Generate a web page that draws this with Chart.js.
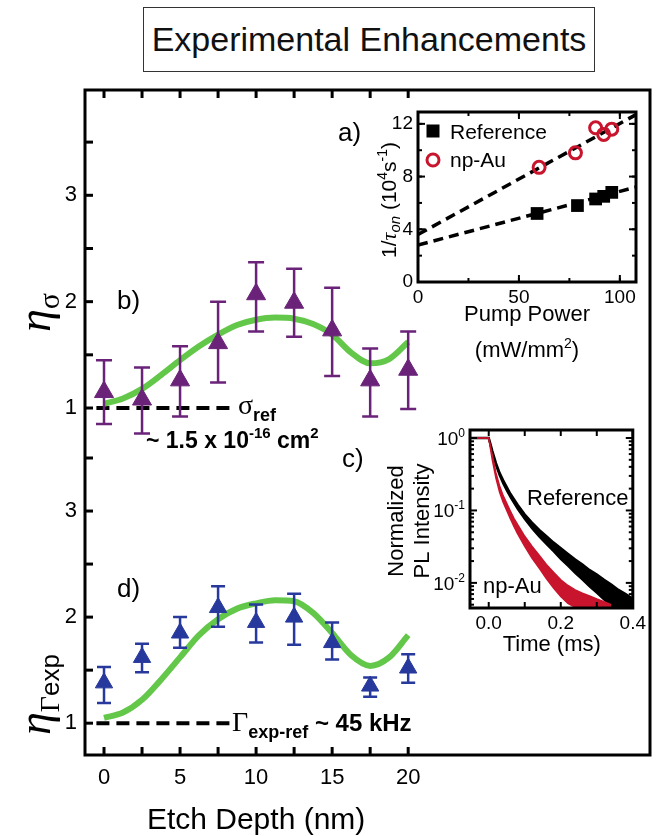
<!DOCTYPE html>
<html>
<head>
<meta charset="utf-8">
<title>Experimental Enhancements</title>
<script src="https://cdn.jsdelivr.net/npm/chart.js@4.4.1/dist/chart.umd.min.js"></script>
<style>
  html, body { margin: 0; padding: 0; background: #fff; }
  body { position: relative; width: 663px; height: 836px; overflow: hidden; font-family: "Liberation Sans", Arial, sans-serif; }
  #title { position: absolute; left: 143px; top: 7px; width: 452px; height: 65px; box-sizing: border-box;
           border: 1.5px solid #333; text-align: center; font-size: 34px; line-height: 62px; color: #111; }
  canvas { position: absolute; }
</style>
</head>
<body>
<div id="title">Experimental Enhancements</div>
<canvas id="main" width="663" height="836" style="left:0;top:0"></canvas>
<canvas id="insetA" width="320" height="275" style="left:330px;top:95px"></canvas>
<canvas id="insetC" width="320" height="245" style="left:330px;top:415px"></canvas>
<script>
// ---- panels b) and d): enhancement vs etch depth ----
const etchDepth  = [0, 2.5, 5, 7.5, 10, 12.5, 15, 17.5, 20];
const etaSigma   = [1.15, 1.08, 1.26, 1.61, 2.07, 1.99, 1.73, 1.26, 1.36];
const etaSigmaHi = [1.45, 1.38, 1.58, 2.00, 2.37, 2.31, 2.13, 1.56, 1.72];
const etaSigmaLo = [0.85, 0.76, 0.92, 1.24, 1.72, 1.67, 1.30, 0.92, 0.99];
const etaGamma   = [1.38, 1.62, 1.85, 2.09, 1.95, 2.00, 1.76, 1.35, 1.52];
const etaGammaHi = [1.53, 1.75, 2.00, 2.29, 2.12, 2.22, 1.95, 1.43, 1.65];
const etaGammaLo = [1.19, 1.48, 1.71, 1.91, 1.76, 1.74, 1.60, 1.25, 1.38];

// green model curves
const fitDepth = [0, 1.25, 2.5, 3.75, 5, 6.25, 7.5, 8.75, 10, 11.25, 12.5, 13.75, 15, 16.25, 17.5, 18.75, 20];
const sigmaFit = [1.04, 1.09, 1.18, 1.31, 1.45, 1.58, 1.69, 1.78, 1.83, 1.85, 1.84, 1.79, 1.69, 1.52, 1.42, 1.46, 1.62];
const gammaFit = [1.05, 1.10, 1.22, 1.41, 1.62, 1.83, 1.98, 2.08, 2.13, 2.16, 2.15, 2.04, 1.85, 1.64, 1.54, 1.62, 1.83];

// dashed reference level
const refDepth = [-0.5, 8.4];
const refLevel = [1, 1];

const depthTicks = [0, 5, 10, 15, 20];
const depthMinor = [0, 2.5, 5, 7.5, 10, 12.5, 15, 17.5, 20];
const etaTicks   = [1, 2, 3];
const etaMinor   = [1, 1.5, 2, 2.5, 3, 3.5];

// ---- inset a): 1/tau_on vs pump power ----
const pumpRef = [59, 79, 88, 92, 96];
const rateRef = [5.2, 5.8, 6.3, 6.5, 6.8];
const pumpAu  = [60, 78, 88, 92, 96];
const rateAu  = [8.7, 9.8, 11.7, 11.2, 11.6];
const fitPump = [0, 108];
const fitRef  = [2.8, 7.2];
const fitAu   = [3.6, 12.7];
const pumpTicks = [0, 50, 100];
const pumpMinor = [0, 25, 50, 75, 100];
const rateTicks = [0, 4, 8, 12];
const rateMinor = [0, 2, 4, 6, 8, 10, 12];

// ---- inset c): PL decay, read as upper / lower edges of the noisy traces ----
const tRef  = [-0.052, 0, 0.005, 0.01, 0.02, 0.03, 0.04, 0.05, 0.06, 0.08, 0.10, 0.12, 0.14, 0.16, 0.18, 0.20, 0.22, 0.24, 0.26, 0.28, 0.30, 0.32, 0.34, 0.36, 0.38, 0.40];
const refHi = [1, 1, 0.82, 0.66, 0.45, 0.33, 0.26, 0.21, 0.17, 0.12, 0.088, 0.068, 0.054, 0.044, 0.036, 0.030, 0.025, 0.021, 0.018, 0.015, 0.013, 0.011, 0.0095, 0.008, 0.007, 0.006];
const refLo = [1, 1, 0.77, 0.61, 0.41, 0.30, 0.23, 0.185, 0.15, 0.104, 0.075, 0.056, 0.043, 0.034, 0.027, 0.021, 0.017, 0.0135, 0.011, 0.0088, 0.0072, 0.0058, 0.0048, 0.0045, 0.0045, 0.0045];
const tAu   = [-0.052, 0, 0.005, 0.01, 0.02, 0.03, 0.04, 0.05, 0.06, 0.07, 0.08, 0.10, 0.12, 0.14, 0.16, 0.18, 0.20, 0.22, 0.24, 0.26, 0.28, 0.30, 0.32, 0.34];
const auHi  = [1, 1, 0.76, 0.58, 0.33, 0.22, 0.16, 0.125, 0.098, 0.078, 0.064, 0.044, 0.032, 0.024, 0.018, 0.014, 0.011, 0.0092, 0.0080, 0.0072, 0.0066, 0.0060, 0.0055, 0.0050];
const auLo  = [1, 1, 0.70, 0.50, 0.28, 0.18, 0.13, 0.100, 0.077, 0.060, 0.048, 0.032, 0.022, 0.016, 0.0115, 0.0085, 0.0065, 0.0052, 0.0046, 0.0045, 0.0045, 0.0045, 0.0045, 0.0045];
const timeTicks = [0, 0.2, 0.4];
const timeMinor = [0, 0.1, 0.2, 0.3, 0.4];
const plTicks = [1, 0.1, 0.01];
const plSup   = ['0', '-1', '-2'];
const plMinor = [0.005, 0.006, 0.007, 0.008, 0.009, 0.02, 0.03, 0.04, 0.05, 0.06, 0.07, 0.08, 0.09,
                 0.2, 0.3, 0.4, 0.5, 0.6, 0.7, 0.8, 0.9];

const FONT  = '"Liberation Sans", Arial, Helvetica, sans-serif';
const SERIF = '"Liberation Serif", "DejaVu Serif", "Times New Roman", serif';
Chart.defaults.font.family = FONT;
Chart.defaults.color = '#000';

const purple = '#6a2379';
const blue   = '#27399c';
const green  = '#63c74a';
const red    = '#c8142c';

function xy(xs, ys) { return xs.map((x, i) => ({x: x, y: ys[i]})); }
function setTicks(vals) { return s => { s.ticks = vals.map(v => ({value: v})); }; }

function drawRich(ctx, x, y, segs, align, rot) {
    ctx.save();
    ctx.translate(x, y);
    if (rot) ctx.rotate(rot);
    ctx.textBaseline = 'alphabetic';
    let w = 0;
    segs.forEach(s => { ctx.font = s.f; w += ctx.measureText(s.t).width; });
    let cx = align === 'center' ? -w / 2 : (align === 'right' ? -w : 0);
    segs.forEach(s => {
        ctx.font = s.f;
        ctx.fillStyle = s.c || '#000';
        ctx.fillText(s.t, cx, s.dy || 0);
        cx += ctx.measureText(s.t).width;
    });
    ctx.restore();
}

// text that Chart.js can't do (sub/superscripts, panel letters), global page coords
function textPlugin(ox, oy, items) {
    return {
        id: 'richText',
        afterDraw(chart) {
            items.forEach(it => {
                const p = typeof it.at === 'function' ? it.at(chart) : it.at;
                drawRich(chart.ctx, p[0] - ox, p[1] - oy, it.segs, it.align || 'left', it.rot || 0);
            });
        }
    };
}

// box around plot area + inward pointing ticks
function framePlugin(sets, boxWidth, tickWidth) {
    return {
        id: 'frame',
        afterDatasetsDraw(chart) {
            const ctx = chart.ctx, a = chart.chartArea;
            ctx.save();
            ctx.strokeStyle = '#000';
            ctx.lineWidth = boxWidth;
            ctx.strokeRect(a.left, a.top, a.right - a.left, a.bottom - a.top);
            ctx.lineWidth = tickWidth;
            sets.forEach(s => {
                const sc = chart.scales[s.axis];
                s.values.forEach(v => {
                    const p = sc.getPixelForValue(v);
                    s.sides.forEach(side => {
                        ctx.beginPath();
                        if (side === 'bottom') { ctx.moveTo(p, a.bottom); ctx.lineTo(p, a.bottom - s.len); }
                        if (side === 'top')    { ctx.moveTo(p, a.top);    ctx.lineTo(p, a.top + s.len); }
                        if (side === 'left')   { ctx.moveTo(a.left, p);   ctx.lineTo(a.left + s.len, p); }
                        if (side === 'right')  { ctx.moveTo(a.right, p);  ctx.lineTo(a.right - s.len, p); }
                        ctx.stroke();
                    });
                });
            });
            ctx.restore();
        }
    };
}

const errorBars = {
    id: 'errorBars',
    afterDatasetsDraw(chart) {
        const ctx = chart.ctx;
        chart.data.datasets.forEach((ds, di) => {
            if (!ds.errLo) return;
            const meta = chart.getDatasetMeta(di);
            const ys = chart.scales[meta.yAxisID];
            ctx.save();
            ctx.strokeStyle = ds.errColor;
            ctx.lineWidth = ds.errWidth;
            meta.data.forEach((pt, i) => {
                const top = ys.getPixelForValue(ds.errHi[i]);
                const bot = ys.getPixelForValue(ds.errLo[i]);
                const h = ds.capWidth / 2;
                ctx.beginPath();
                ctx.moveTo(pt.x, top); ctx.lineTo(pt.x, bot);
                ctx.moveTo(pt.x - h, top); ctx.lineTo(pt.x + h, top);
                ctx.moveTo(pt.x - h, bot); ctx.lineTo(pt.x + h, bot);
                ctx.stroke();
            });
            ctx.restore();
        });
    }
};

const noGrid = {display: false, drawTicks: false};
const base = {
    responsive: false, devicePixelRatio: 1, animation: false,
    plugins: {legend: {display: false}, tooltip: {enabled: false}}
};

// ---------------- main chart ----------------
const mainTexts = [
    {at: [117, 309], segs: [{t: 'b)', f: '26px ' + FONT}]},
    {at: [117, 597], segs: [{t: 'd)', f: '26px ' + FONT}]},
    {at: [238, 414], segs: [{t: 'σ', f: '28px ' + SERIF}, {t: 'ref', f: 'bold 18px ' + FONT, dy: 7}]},
    {at: [146, 448], segs: [{t: '~ 1.5 x 10', f: 'bold 23px ' + FONT}, {t: '-16', f: 'bold 15px ' + FONT, dy: -10},
                            {t: ' cm', f: 'bold 23px ' + FONT}, {t: '2', f: 'bold 15px ' + FONT, dy: -10}]},
    {at: [232, 731], segs: [{t: 'Γ', f: '28px ' + SERIF}, {t: 'exp-ref', f: 'bold 18px ' + FONT, dy: 7},
                            {t: ' ~ 45 kHz', f: 'bold 24px ' + FONT}]},
    {at: [50, 332], rot: -Math.PI / 2, segs: [{t: 'η', f: 'italic 46px ' + SERIF}, {t: 'σ', f: '30px ' + SERIF, dy: 9}]},
    {at: [50, 735], rot: -Math.PI / 2, segs: [{t: 'η', f: 'italic 46px ' + SERIF}, {t: 'Γ', f: '28px ' + SERIF, dy: 9},
                                              {t: 'exp', f: '26px ' + FONT, dy: 9}]},
    {at: c => [c.scales.x.getPixelForValue(10), 829], align: 'center', segs: [{t: 'Etch Depth (nm)', f: '30px ' + FONT}]}
];

const etaAxis = (weight, min, max) => ({
    type: 'linear', position: 'left', stack: 'eta', stackWeight: weight, min: min, max: max,
    afterBuildTicks: setTicks(etaTicks),
    afterFit: s => { s.width = 85; },
    grid: noGrid, border: {display: false},
    ticks: {padding: 8, font: {size: 22}, color: '#000'}
});

new Chart(document.getElementById('main'), {
    type: 'scatter',
    data: {datasets: [
        {label: 'eta sigma', data: xy(etchDepth, etaSigma), yAxisID: 'yS', pointStyle: 'triangle', pointRadius: 11,
         backgroundColor: purple, borderColor: purple, borderWidth: 1,
         errLo: etaSigmaLo, errHi: etaSigmaHi, errColor: purple, errWidth: 2.5, capWidth: 16, order: 0},
        {label: 'sigma model', data: xy(fitDepth, sigmaFit), yAxisID: 'yS', showLine: true, pointRadius: 0,
         borderColor: green, borderWidth: 6, cubicInterpolationMode: 'monotone', order: 1},
        {label: 'sigma ref', data: xy(refDepth, refLevel), yAxisID: 'yS', showLine: true, pointRadius: 0,
         borderColor: '#000', borderWidth: 4, borderDash: [13, 7], order: 2},
        {label: 'eta gamma', data: xy(etchDepth, etaGamma), yAxisID: 'yG', pointStyle: 'triangle', pointRadius: 10,
         backgroundColor: blue, borderColor: blue, borderWidth: 1,
         errLo: etaGammaLo, errHi: etaGammaHi, errColor: blue, errWidth: 2.5, capWidth: 14, order: 0},
        {label: 'gamma model', data: xy(fitDepth, gammaFit), yAxisID: 'yG', showLine: true, pointRadius: 0,
         borderColor: green, borderWidth: 6, cubicInterpolationMode: 'monotone', order: 1},
        {label: 'gamma ref', data: xy(refDepth, refLevel), yAxisID: 'yG', showLine: true, pointRadius: 0,
         borderColor: '#000', borderWidth: 4, borderDash: [13, 7], order: 2}
    ]},
    options: Object.assign({}, base, {
        layout: {padding: {left: 0, top: 90, right: 13, bottom: 0}},
        scales: {
            x: {type: 'linear', min: -1.25, max: 35.9,
                afterBuildTicks: setTicks(depthTicks),
                afterFit: s => { s.height = 81; },
                grid: noGrid, border: {display: false},
                ticks: {autoSkip: false, maxRotation: 0, padding: 10, font: {size: 22}, color: '#000'}},
            yG: etaAxis(297, 0.70, 3.5),
            yS: etaAxis(368, 0.53, 3.99)
        }
    }),
    plugins: [errorBars,
        framePlugin([
            {axis: 'x', values: depthMinor, len: 8, sides: ['bottom', 'top']},
            {axis: 'yS', values: etaMinor, len: 8, sides: ['left']},
            {axis: 'yG', values: etaMinor, len: 8, sides: ['left']}
        ], 3, 3),
        textPlugin(0, 0, mainTexts)]
});

// ---------------- inset a ----------------
const insetATexts = [
    {at: [338, 141], segs: [{t: 'a)', f: '26px ' + FONT}]},
    {at: [450, 139], segs: [{t: 'Reference', f: '21px ' + FONT}]},
    {at: [450, 167], segs: [{t: 'np-Au', f: '21px ' + FONT}]},
    {at: [396, 200], rot: -Math.PI / 2, align: 'center', segs: [
        {t: '1/', f: '21px ' + FONT}, {t: 'τ', f: 'italic 22px ' + SERIF}, {t: 'on', f: 'italic 15px ' + FONT, dy: 4},
        {t: ' (10', f: '21px ' + FONT}, {t: '4', f: '14px ' + FONT, dy: -9}, {t: 's', f: '21px ' + FONT},
        {t: '-1', f: '14px ' + FONT, dy: -9}, {t: ')', f: '21px ' + FONT}]},
    {at: [527, 321], align: 'center', segs: [{t: 'Pump Power', f: '22px ' + FONT}]},
    {at: [527, 357], align: 'center', segs: [{t: '(mW/mm', f: '22px ' + FONT}, {t: '2', f: '14px ' + FONT, dy: -9},
                                             {t: ')', f: '22px ' + FONT}]}
];

const legendMarks = {
    id: 'legendMarks',
    afterDraw(chart) {
        const ctx = chart.ctx;
        ctx.save();
        ctx.fillStyle = '#000';
        ctx.fillRect(433 - 330 - 6.5, 131 - 95 - 6.5, 13, 13);
        ctx.strokeStyle = red;
        ctx.lineWidth = 3;
        ctx.beginPath();
        ctx.arc(433 - 330, 160 - 95, 6, 0, Math.PI * 2);
        ctx.stroke();
        ctx.restore();
    }
};

new Chart(document.getElementById('insetA'), {
    type: 'scatter',
    data: {datasets: [
        {label: 'Reference', data: xy(pumpRef, rateRef), pointStyle: 'rect', pointRadius: 9,
         backgroundColor: '#000', borderColor: '#000', borderWidth: 0, order: 0},
        {label: 'np-Au', data: xy(pumpAu, rateAu), pointStyle: 'circle', pointRadius: 6,
         backgroundColor: 'rgba(0,0,0,0)', borderColor: red, borderWidth: 3, order: 0},
        {label: 'Reference fit', data: xy(fitPump, fitRef), showLine: true, pointRadius: 0,
         borderColor: '#000', borderWidth: 3.5, borderDash: [10, 6], order: 1},
        {label: 'np-Au fit', data: xy(fitPump, fitAu), showLine: true, pointRadius: 0,
         borderColor: '#000', borderWidth: 3.5, borderDash: [10, 6], order: 1}
    ]},
    options: Object.assign({}, base, {
        layout: {padding: {left: 0, top: 17, right: 14, bottom: 0}},
        scales: {
            x: {type: 'linear', min: 0, max: 108,
                afterBuildTicks: setTicks(pumpTicks),
                afterFit: s => { s.height = 88; },
                grid: noGrid, border: {display: false},
                ticks: {autoSkip: false, maxRotation: 0, padding: 4, font: {size: 19}, color: '#000'}},
            y: {type: 'linear', min: 0, max: 12.9,
                afterBuildTicks: setTicks(rateTicks),
                afterFit: s => { s.width = 88; },
                grid: noGrid, border: {display: false},
                ticks: {padding: 5, font: {size: 19}, color: '#000'}}
        }
    }),
    plugins: [
        framePlugin([
            {axis: 'x', values: pumpTicks, len: 7, sides: ['bottom', 'top']},
            {axis: 'x', values: pumpMinor, len: 4, sides: ['bottom', 'top']},
            {axis: 'y', values: rateTicks, len: 7, sides: ['left', 'right']},
            {axis: 'y', values: rateMinor, len: 4, sides: ['left', 'right']}
        ], 3, 2),
        legendMarks,
        textPlugin(330, 95, insetATexts)]
});

// ---------------- inset c ----------------
const insetCTexts = [
    {at: [342, 467], segs: [{t: 'c)', f: '26px ' + FONT}]},
    {at: [527, 505], segs: [{t: 'Reference', f: '22px ' + FONT}]},
    {at: [483, 593], segs: [{t: 'np-Au', f: '22px ' + FONT}]},
    {at: [403, 521], rot: -Math.PI / 2, align: 'center', segs: [{t: 'Normalized', f: '22px ' + FONT}]},
    {at: [429, 521], rot: -Math.PI / 2, align: 'center', segs: [{t: 'PL Intensity', f: '22px ' + FONT}]},
    {at: c => [c.scales.x.getPixelForValue(0.175) + 330, 651], align: 'center', segs: [{t: 'Time (ms)', f: '22px ' + FONT}]}
];
plTicks.forEach((v, i) => {
    insetCTexts.push({at: c => [465, c.scales.y.getPixelForValue(v) + 415 + 7], align: 'right',
        segs: [{t: '10', f: '19px ' + FONT}, {t: plSup[i], f: '12px ' + FONT, dy: -8}]});
});

const band = (t, ys, color, fillTo) => ({
    data: xy(t, ys), showLine: true, pointRadius: 0, borderColor: color, borderWidth: 1.5,
    backgroundColor: color, fill: fillTo
});

new Chart(document.getElementById('insetC'), {
    type: 'scatter',
    data: {datasets: [
        Object.assign(band(tAu, auHi, red, '+1'), {label: 'np-Au'}),
        Object.assign(band(tAu, auLo, red, false), {label: 'np-Au low'}),
        Object.assign(band(tRef, refHi, '#000', '+1'), {label: 'Reference', borderWidth: 2.5}),
        Object.assign(band(tRef, refLo, '#000', false), {label: 'Reference low'})
    ]},
    options: Object.assign({}, base, {
        layout: {padding: {left: 0, top: 15, right: 16, bottom: 0}},
        scales: {
            x: {type: 'linear', min: -0.052, max: 0.4,
                afterBuildTicks: setTicks(timeTicks),
                afterFit: s => { s.height = 52; },
                grid: noGrid, border: {display: false},
                ticks: {autoSkip: false, maxRotation: 0, padding: 4, font: {size: 19}, color: '#000',
                        callback: v => v.toFixed(1)}},
            y: {type: 'logarithmic', min: 0.0045, max: 1.29,
                afterFit: s => { s.width = 140; },
                grid: noGrid, border: {display: false},
                ticks: {display: false}}
        }
    }),
    plugins: [
        framePlugin([
            {axis: 'x', values: timeMinor, len: 6, sides: ['bottom', 'top']},
            {axis: 'y', values: plTicks, len: 7, sides: ['left', 'right']},
            {axis: 'y', values: plMinor, len: 4, sides: ['left', 'right']}
        ], 3, 2),
        textPlugin(330, 415, insetCTexts)]
});
</script>
</body>
</html>
